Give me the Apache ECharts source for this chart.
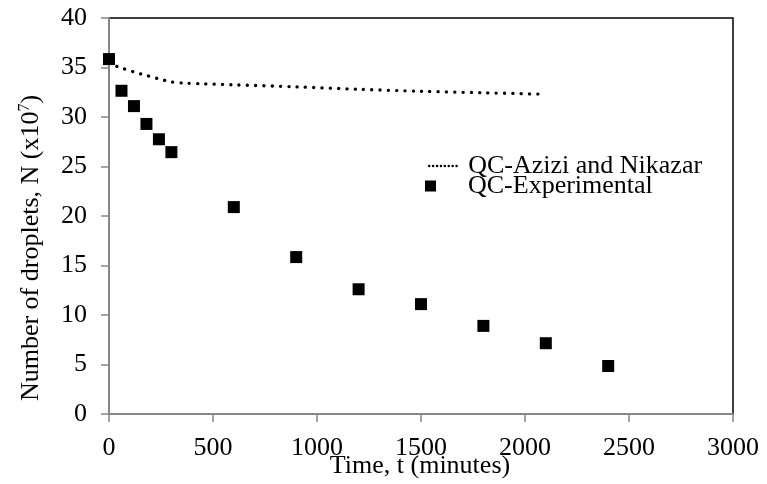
<!DOCTYPE html>
<html><head><meta charset="utf-8">
<script src="https://cdn.jsdelivr.net/npm/echarts@6/dist/echarts.min.js"></script>
<style>html,body{margin:0;padding:0;background:#fff}#c{width:767px;height:484px}</style>
</head><body><div id="c"></div>
<script>
const modelTime = [0, 60, 120, 180, 240, 300, 360, 450, 600, 900, 1200, 1500, 1800, 2100];
const modelN = [35.4, 34.95, 34.55, 34.2, 33.85, 33.55, 33.43, 33.36, 33.25, 33.05, 32.8, 32.6, 32.45, 32.3];
const expTime = [0, 60, 120, 180, 240, 300, 600, 900, 1200, 1500, 1800, 2100, 2400];
const expN = [35.85, 32.65, 31.1, 29.3, 27.75, 26.45, 20.9, 15.85, 12.6, 11.1, 8.9, 7.15, 4.85];
const xTicks = [0, 500, 1000, 1500, 2000, 2500, 3000];
const yTicks = [0, 5, 10, 15, 20, 25, 30, 35, 40];
const seriesNames = ['QC-Azizi and Nikazar', 'QC-Experimental'];

const FONT = 'Liberation Serif';
const FS = 26;
const chart = echarts.init(document.getElementById('c'), null, {renderer: 'canvas'});
chart.setOption({
  animation: false,
  backgroundColor: '#fff',
  grid: {left: 109, right: 34, top: 18, bottom: 70, show: true, borderColor: '#000', borderWidth: 1.5},
  xAxis: {
    type: 'value', min: xTicks[0], max: xTicks[xTicks.length - 1], interval: 500,
    axisLine: {show: true, lineStyle: {color: '#868686', width: 2}},
    axisTick: {show: true, length: 8, lineStyle: {color: '#868686', width: 1.5}},
    splitLine: {show: false},
    axisLabel: {fontFamily: FONT, fontSize: FS, color: '#000', margin: 21, formatter: v => String(v)}
  },
  yAxis: {
    type: 'value', min: yTicks[0], max: yTicks[yTicks.length - 1], interval: 5,
    axisLine: {show: true, lineStyle: {color: '#868686', width: 2}},
    axisTick: {show: true, length: 8, lineStyle: {color: '#868686', width: 1.5}},
    splitLine: {show: false},
    axisLabel: {fontFamily: FONT, fontSize: FS, color: '#000', margin: 22, formatter: v => String(v)}
  },
  legend: [
    {
      orient: 'vertical', left: 428, top: 153, padding: 0, itemWidth: 30, itemHeight: 10,
      textStyle: {fontFamily: FONT, fontSize: FS, color: '#000', padding: [0, 0, 0, 4]},
      data: [{name: seriesNames[0], itemStyle: {opacity: 0}, lineStyle: {width: 2.4, type: [0.1, 3.8], cap: 'round', color: '#000'}}]
    },
    {
      orient: 'vertical', left: 425, top: 173, padding: 0, itemWidth: 11, itemHeight: 11,
      textStyle: {fontFamily: FONT, fontSize: FS, color: '#000', padding: [0, 0, 0, 27]},
      data: [{name: seriesNames[1], icon: 'rect', itemStyle: {color: '#000', opacity: 1}}]
    }
  ],
  graphic: [
    {type: 'text', x: 420, y: 466, style: {text: 'Time, t (minutes)', fontFamily: FONT, fontSize: FS, fill: '#000', align: 'center', verticalAlign: 'middle'}},
    {type: 'text', x: 31, y: 248, rotation: Math.PI / 2, style: {
      text: 'Number of droplets, N (x10{sup|7})', fill: '#000', align: 'center', verticalAlign: 'middle',
      fontFamily: FONT, fontSize: FS,
      rich: {sup: {fontFamily: FONT, fontSize: 16, verticalAlign: 'top', padding: [0, 0, 12, 0]}}
    }}
  ],
  series: [
    {
      name: seriesNames[0], type: 'line', smooth: 0.3, symbol: 'none',
      data: modelTime.map((t, i) => [t, modelN[i]]),
      lineStyle: {color: '#000', width: 3.3, type: [0.1, 8.2], cap: 'round'},
      itemStyle: {color: '#000'}
    },
    {
      name: seriesNames[1], type: 'scatter', symbol: 'rect', symbolSize: 12,
      data: expTime.map((t, i) => [t, expN[i]]),
      itemStyle: {color: '#000', opacity: 1}
    }
  ]
});
</script></body></html>
